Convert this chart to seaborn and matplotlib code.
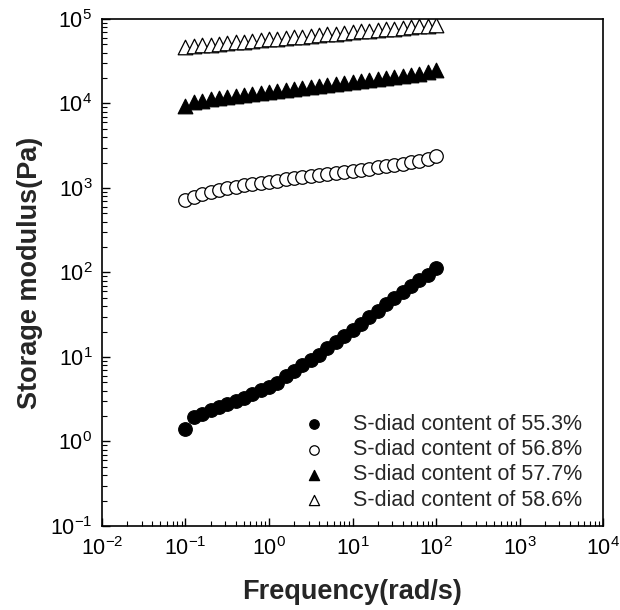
import numpy as np
import pandas as pd
import matplotlib
matplotlib.use("Agg")
import matplotlib.pyplot as plt
import matplotlib.ticker as mticker
import seaborn as sns

# frequency sweep (rad/s), 10 points per decade
freq = [0.1, 0.1259, 0.1585, 0.1995, 0.2512, 0.3162, 0.3981, 0.5012, 0.631, 0.7943,
        1.0, 1.259, 1.585, 1.995, 2.512, 3.162, 3.981, 5.012, 6.31, 7.943,
        10.0, 12.59, 15.85, 19.95, 25.12, 31.62, 39.81, 50.12, 63.1, 79.43, 100.0]

# storage modulus G' (Pa)
g_553 = [1.41, 1.93, 2.11, 2.33, 2.55, 2.77, 2.98, 3.26, 3.64, 4.03,
         4.41, 4.92, 6.01, 6.90, 7.98, 9.31, 10.7, 12.8, 14.9, 17.6,
         20.6, 24.6, 29.6, 34.8, 41.8, 50.1, 59.0, 69.0, 80.6, 93.1, 112.0]
g_568 = [714, 790, 850, 905, 950, 995, 1035, 1075, 1110, 1150,
         1190, 1225, 1260, 1300, 1340, 1380, 1420, 1460, 1505, 1550,
         1600, 1650, 1700, 1755, 1810, 1870, 1940, 2020, 2110, 2220, 2380]
g_577 = [9300, 10300, 10800, 11200, 11600, 12000, 12300, 12700, 13000, 13400,
         13700, 14100, 14400, 14800, 15200, 15600, 16000, 16400, 16900, 17300,
         17800, 18300, 18800, 19300, 19900, 20500, 21100, 21800, 22600, 23500, 24800]
g_586 = [46900, 47900, 48800, 49700, 50800, 51800, 52800, 53900, 55000, 56000,
         57200, 58300, 59500, 60700, 61900, 63100, 64400, 65700, 67000, 68300,
         69700, 71100, 72500, 74000, 75500, 77000, 78500, 80100, 81700, 83300, 84900]

labels = ["S-diad content of 55.3%", "S-diad content of 56.8%",
          "S-diad content of 57.7%", "S-diad content of 58.6%"]

x_ticks = [1e-2, 1e-1, 1e0, 1e1, 1e2, 1e3, 1e4]
y_ticks = [1e-1, 1e0, 1e1, 1e2, 1e3, 1e4, 1e5]

sns.set_style("ticks")
plt.rcParams["font.family"] = ["Liberation Sans", "DejaVu Sans"]
plt.rcParams["mathtext.fontset"] = "custom"
plt.rcParams["mathtext.rm"] = "Liberation Sans"
plt.rcParams["mathtext.it"] = "Liberation Sans"
plt.rcParams["mathtext.bf"] = "Liberation Sans:bold"
plt.rcParams["mathtext.default"] = "regular"

fig = plt.figure(figsize=(6.2, 6.1), dpi=100)
ax = fig.add_axes([0.1645, 0.1377, 0.8081, 0.8312])

series = [
    (g_553, "o", "black"),
    (g_568, "o", "white"),
    (g_577, "^", "black"),
    (g_586, "^", "white"),
]
for (vals, mk, fc), lab in zip(series, labels):
    sns.scatterplot(x=freq, y=vals, marker=mk, s=95 if mk == "o" else 110,
                    color=fc, edgecolor="black", linewidth=0.9,
                    label=lab, ax=ax, zorder=3)

ax.set_xscale("log")
ax.set_yscale("log")
ax.set_xticks(x_ticks)
ax.set_yticks(y_ticks)
ax.set_xlim(x_ticks[0], x_ticks[-1])
ax.set_ylim(y_ticks[0], y_ticks[-1])

for axis in (ax.xaxis, ax.yaxis):
    axis.set_major_formatter(mticker.LogFormatterSciNotation())
    axis.set_minor_locator(mticker.LogLocator(base=10, subs=np.arange(2, 10), numticks=20))
    axis.set_minor_formatter(mticker.NullFormatter())

ax.tick_params(which="both", direction="in", top=False, right=False,
               colors="black", labelsize=15.5)
ax.tick_params(which="major", length=6, width=1)
ax.tick_params(which="minor", length=3.5, width=0.8)
ax.tick_params(axis="x", pad=8)
ax.tick_params(axis="y", pad=7)

for sp in ax.spines.values():
    sp.set_visible(True)
    sp.set_color("black")
    sp.set_linewidth(1.2)

ax.set_xlabel("Frequency(rad/s)", fontsize=19.5, fontweight="bold")
ax.set_ylabel("Storage modulus(Pa)", fontsize=19.5, fontweight="bold")
ax.xaxis.set_label_coords(0.5, -0.105)
ax.yaxis.set_label_coords(-0.117, 0.5)

ax.legend(loc="lower right", bbox_to_anchor=(0.958, 0.03), frameon=False,
          fontsize=15.5, markerscale=0.7, handlelength=1.0, handletextpad=1.3,
          labelspacing=0.2, borderpad=0, borderaxespad=0)

fig.savefig("out.png", dpi=100, facecolor="white")
